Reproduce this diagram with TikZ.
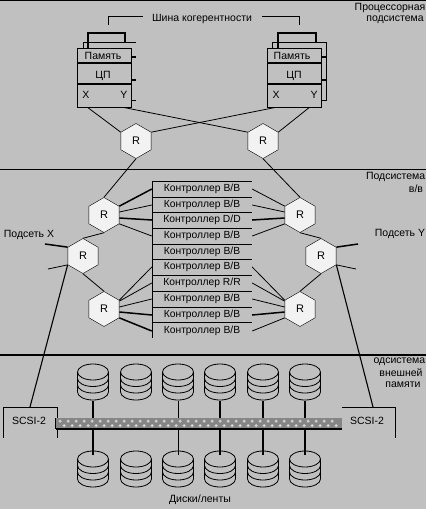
\documentclass[tikz,border=0pt]{standalone}
\usepackage{fontspec}
\setmainfont{Liberation Sans}
\usetikzlibrary{shapes.geometric}
\definecolor{panelgray}{HTML}{C0C0C0}
\definecolor{hexfill}{HTML}{F2F2F2}
\definecolor{bandgray}{HTML}{858585}
\definecolor{bandlight}{HTML}{DCDCDC}
\tikzset{
  wire/.style={line width=0.8},
  heavy/.style={line width=1.5},
  cable/.style={line width=1.1},
  router/.style={regular polygon,regular polygon sides=6,shape border rotate=30,draw,fill=hexfill,
    minimum size=35,inner sep=0,font=\fontsize{11}{13}\selectfont},
  ctrl/.style={anchor=center,inner sep=0,font=\fontsize{10.3}{12}\selectfont},
  lbl/.style={inner sep=0,font=\fontsize{10.5}{12}\selectfont},
  stack/.pic={
    \draw [wire] (0,0) ellipse [x radius=15.5,y radius=8];
    \draw [wire] (-15.5,0) -- (-15.5,20);
    \draw [wire] (15.5,0) -- (15.5,20);
    \foreach \yy in {6.5,13,20}
      \draw [wire] (-15.5,\yy) arc [x radius=15.5,y radius=8,start angle=180,end angle=0];
  }
}
\begin{document}
\begin{tikzpicture}[x=1pt,y=-1pt]
\useasboundingbox [fill=panelgray] (0,0) rectangle (426,509);
% separators
\draw [line width=1.5] (0,0.5) -- (426,0.5);
\draw [line width=1] (0,169) -- (426,169);
\draw [line width=2] (0,355) -- (426,355);
% region titles
\node [lbl] at (390,8) {Процессорная};
\node [lbl] at (395,20) {подсистема};
\node [lbl,anchor=east] at (425.5,177) {Подсистема};
\node [lbl] at (416,189) {в/в};
\node [lbl,anchor=east] at (425.5,362) {одсистема};
\node [lbl] at (401,373) {внешней};
\node [lbl] at (403,385) {памяти};
\node [lbl] at (29,235) {Подсеть X};
\node [lbl] at (400,234) {Подсеть Y};
\node [lbl] at (200,500) {Диски/ленты};
% coherence bus
\node [lbl] (bus) at (202,19) {Шина когерентности};
\draw [wire] (108,25) |- (143,16);
\draw [wire] (262,16) -| (299,25);
% left module
\draw [wire] (83,48) |- (136,42);
\draw [heavy] (88,48) |- (125,33) -- (125,43);
\node [draw,wire,minimum width=54,minimum height=59,inner sep=0] (cpuA) at (104,77.5) {};
\draw [heavy] (77,63) -- (131,63);
\draw [heavy] (77,84) -- (131,84);
\node [lbl] at (103,56) {Память};
\node [lbl] at (103,76) {ЦП};
\node [lbl] at (86,95) {X};
\node [lbl] at (124,95) {Y};
\draw [heavy] (131,57) -- (136,57);
\draw [heavy] (131,80) -- (136,80);
\draw [wire] (131,100) -- (136,100);
% right module
\draw [wire] (272,48) |- (326,42) |- (321,100);
\draw [heavy] (278,48) |- (316,33) -- (316,43);
\node [draw,wire,minimum width=54,minimum height=59,inner sep=0] (cpuB) at (294,77.5) {};
\draw [heavy] (267,63) -- (321,63);
\draw [heavy] (267,84) -- (321,84);
\node [lbl] at (292,56) {Память};
\node [lbl] at (294,76) {ЦП};
\node [lbl] at (276,95) {X};
\node [lbl] at (314,95) {Y};
\draw [heavy] (321,57) -- (326,57);
\draw [heavy] (321,80) -- (326,80);
% routers
\node [router] (ra) at (136,141) {R};
\node [router] (rb) at (263,141) {R};
\node [router] (rc) at (104,215) {R};
\node [router] (rd) at (300,215) {R};
\node [router] (re) at (83,256) {R};
\node [router] (rf) at (321,256) {R};
\node [router] (rg) at (104,309) {R};
\node [router] (rh) at (300,309) {R};
% controllers
\draw [wire] (152,181) -- (152,338);
\foreach \yy/\ioname [count=\i] in {189/{В/В},205/{В/В},220/{D/D},236/{В/В},252/{В/В},267/{В/В},283/{R/R},299/{В/В},315/{В/В},331/{В/В}}{
  \node [ctrl,minimum width=100,minimum height=15] (c\i) at (202,\yy) {Контроллер \ioname};
}
\foreach \yy in {181,197,212,228,244,259,275,291,307,322}
  \draw [wire] (152,\yy) -- (252,\yy);
\draw [wire] (cpuA.south west) ++(11,0) -- (ra.corner 2);
\draw [wire] (cpuA.south east) ++(-8,0) -- (rb.corner 2);
\draw [wire] (cpuB.south west) ++(9,0) -- (ra.corner 6);
\draw [wire] (cpuB.south east) ++(-12,0) -- (rb.corner 6);
\draw [wire] (ra.south) -- (rc.north);
\draw [wire] (rb.south) -- (rd.north);
\draw [wire] (rc.south) -- (re.north);
\draw [wire] (rd.south) -- (rf.north);
\draw [wire] (re.south) -- (rg.north);
\draw [wire] (rf.south) -- (rh.north);
% spokes
\draw [heavy] (rc.corner 6) -- (c1.west);
\draw [wire] (rc.east) ++(0,-3) -- (c2.west);
\draw [heavy] (rc.east) ++(0,3) -- (c3.west);
\draw [wire] (rc.corner 5) -- (c4.west);
\draw [wire] (rd.corner 2) -- (c1.east);
\draw [wire] (rd.west) ++(0,-3) -- (c2.east);
\draw [heavy] (rd.west) ++(0,3) -- (c3.east);
\draw [wire] (rd.corner 3) -- (c4.east);
\draw [wire] (rg.corner 6) -- (c6.west);
\draw [wire] (rg.corner 6) ++(0,1) -- (c7.west);
\draw [wire] (rg.east) ++(0,-2) -- (c8.west);
\draw [heavy] (rg.east) ++(0,3) -- (c9.west);
\draw [heavy] (rg.corner 5) -- (c10.west);
\draw [wire] (rh.corner 2) -- (c6.east);
\draw [wire] (rh.corner 2) ++(0,1) -- (c7.east);
\draw [wire] (rh.west) ++(0,-2) -- (c8.east);
\draw [heavy] (rh.west) ++(0,3) -- (c9.east);
\draw [wire] (rh.corner 3) -- (c10.east);
% subnet stubs and cables
\coordinate (stubA) at (45,244);
\coordinate (stubB) at (48,269);
\coordinate (stubC) at (358,244);
\coordinate (stubD) at (356,269);
\draw [heavy] (re.corner 2) -- (stubA);
\draw [wire] (re.corner 3) -- (stubB);
\draw [heavy] (rf.corner 6) -- (stubC);
\draw [wire] (rf.corner 5) -- (stubD);
% SCSI
\draw [wire] (3,438) |- (57,407) -- (57,438);
\draw [wire] (342,407) -| (395,438);
\coordinate (scsiA) at (30,407);
\coordinate (scsiB) at (373,407);
\draw [cable] (re.corner 3) -- (scsiA);
\draw [cable] (rf.corner 5) -- (scsiB);
\node [lbl] at (29,421) {SCSI-2};
\node [lbl] at (367,421) {SCSI-2};
% band
\node [fill=bandgray,minimum width=286,minimum height=11,inner sep=0] (band) at (199,423.5) {};
\foreach \xx in {60,68,...,336}{
  \fill [bandlight] (\xx-1.5,420.5) rectangle (\xx+1.5,421.5) (\xx-.5,419.5) rectangle (\xx+.5,422.5);
  \fill [bandlight] (\xx+2.5,425) rectangle (\xx+5.5,426) (\xx+3.5,424) rectangle (\xx+4.5,427);
}
\draw [wire] (band.north west) -- (band.south west);
\draw [heavy] (band.south west) -- (band.south east);
% disks
\foreach \xx in {93,136,178,220,263,305}{
  \pic at (\xx,372) {stack};
  \pic at (\xx,459) {stack};
}
\foreach \xx/\ww in {93/heavy,178/wire,220/heavy,263/heavy,305/heavy}{
  \coordinate (dtop) at (\xx,401);
  \coordinate (dbot) at (\xx,455);
  \draw [\ww] (dtop) -- (dtop |- band.north);
  \draw [\ww] (dbot) -- (dbot |- band.south);
}
\end{tikzpicture}
\end{document}
